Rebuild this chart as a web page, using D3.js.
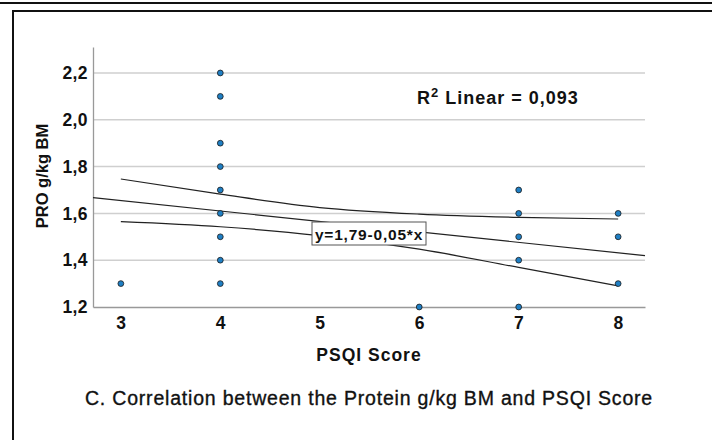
<!DOCTYPE html>
<html>
<head>
<meta charset="utf-8">
<script src="https://cdn.jsdelivr.net/npm/d3@7"></script>
<style>
  body { margin: 0; background: #fff; }
  svg text { font-family: "Liberation Sans", Arial, sans-serif; fill: #111; }
</style>
</head>
<body>
<div id="chart"></div>
<script>
// PSQI score vs protein intake, one entry per visible dot
var psqi = [3, 4, 4, 4, 4, 4, 4, 4, 4, 4, 6, 7, 7, 7, 7, 7, 8, 8, 8];
var protein = [1.3, 2.2, 2.1, 1.9, 1.8, 1.7, 1.6, 1.5, 1.4, 1.3, 1.2, 1.7, 1.6, 1.5, 1.4, 1.2, 1.6, 1.5, 1.3];

var xTicks = [3, 4, 5, 6, 7, 8];
var yTicks = [1.2, 1.4, 1.6, 1.8, 2.0, 2.2];

// fit line and 95% band
var fitIntercept = 1.789;
var fitSlope = -0.0447;
var bandX = [3, 4, 5, 6, 7, 8];
var bandUpper = [1.747, 1.682, 1.625, 1.597, 1.583, 1.576];
var bandLower = [1.565, 1.543, 1.505, 1.447, 1.369, 1.290];

var fmt = function (d) { return d3.format(".1f")(d).replace(".", ","); };

var svg = d3.select("#chart").append("svg")
  .attr("width", 712)
  .attr("height", 440);

// frame lines
svg.append("line")
  .attr("x1", 0).attr("x2", 712).attr("y1", 3).attr("y2", 3)
  .attr("stroke", "#111").attr("stroke-width", 2);
svg.append("rect")
  .attr("x", 13).attr("y", 11).attr("width", 800).attr("height", 500)
  .attr("fill", "none").attr("stroke", "#111").attr("stroke-width", 2);

var x = d3.scaleLinear().domain([2.72, 8.27]).range([93, 645]);
var y = d3.scaleLinear().domain([1.2, 2.311]).range([307, 47]);

// grid
svg.append("g")
  .selectAll("line")
  .data(yTicks.slice(1))
  .enter()
  .append("line")
  .attr("x1", x.range()[0]).attr("x2", x.range()[1])
  .attr("y1", function (d) { return y(d); })
  .attr("y2", function (d) { return y(d); })
  .attr("stroke", "#cfcfcf").attr("stroke-width", 1.5);

// axes
var xAxis = svg.append("g")
  .attr("transform", "translate(0," + y.range()[0] + ")")
  .call(d3.axisBottom(x).tickValues(xTicks).tickSize(0).tickPadding(10).tickFormat(d3.format("d")));
var yAxis = svg.append("g")
  .attr("transform", "translate(" + x.range()[0] + ",0)")
  .call(d3.axisLeft(y).tickValues(yTicks).tickSize(0).tickPadding(5).tickFormat(fmt));

[xAxis, yAxis].forEach(function (a) {
  a.select(".domain").attr("stroke", "#999").attr("stroke-width", 1.3);
  a.selectAll("text")
    .style("font-family", "'Liberation Sans', Arial, sans-serif")
    .style("font-size", "17.5px")
    .style("font-weight", "bold")
    .style("letter-spacing", "0.4px")
    .attr("fill", "#111");
});

// fit line across the plot
var line = d3.line()
  .x(function (d) { return x(d[0]); })
  .y(function (d) { return y(d[1]); });

svg.append("path")
  .datum(x.domain().map(function (v) { return [v, fitIntercept + fitSlope * v]; }))
  .attr("d", line)
  .attr("fill", "none").attr("stroke", "#222").attr("stroke-width", 1.2);

// band curves
var curve = d3.line()
  .x(function (d) { return x(d[0]); })
  .y(function (d) { return y(d[1]); })
  .curve(d3.curveMonotoneX);

[bandUpper, bandLower].forEach(function (band) {
  svg.append("path")
    .datum(bandX.map(function (v, i) { return [v, band[i]]; }))
    .attr("d", curve)
    .attr("fill", "none").attr("stroke", "#222").attr("stroke-width", 1.2);
});

// dots
svg.append("g")
  .selectAll("circle")
  .data(psqi)
  .enter()
  .append("circle")
  .attr("cx", function (d) { return x(d); })
  .attr("cy", function (d, i) { return y(protein[i]); })
  .attr("r", 2.9)
  .attr("fill", "#1f7fc4")
  .attr("stroke", "#1a1a1a")
  .attr("stroke-width", 0.8);

// equation label
var eq = svg.append("g").attr("transform", "translate(369,233.5)");
eq.append("rect")
  .attr("x", -57).attr("y", -11.5).attr("width", 114).attr("height", 23)
  .attr("fill", "#fff").attr("stroke", "#555").attr("stroke-width", 1);
eq.append("text")
  .attr("text-anchor", "middle")
  .attr("y", 6)
  .style("font-size", "15.5px")
  .style("font-weight", "bold")
  .style("letter-spacing", "0.8px")
  .text("y=1,79-0,05*x");

// R squared
var r2 = svg.append("text")
  .attr("x", 417).attr("y", 104)
  .style("font-size", "18px")
  .style("font-weight", "bold")
  .style("letter-spacing", "1px");
r2.append("tspan").text("R");
r2.append("tspan").attr("dy", -7).style("font-size", "13px").text("2");
r2.append("tspan").attr("dy", 7).text(" Linear = 0,093");

// axis titles
svg.append("text")
  .attr("x", 369).attr("y", 361)
  .attr("text-anchor", "middle")
  .style("font-size", "17.5px")
  .style("font-weight", "bold")
  .style("letter-spacing", "1px")
  .text("PSQI Score");

svg.append("text")
  .attr("transform", "translate(48,176) rotate(-90)")
  .attr("text-anchor", "middle")
  .style("font-size", "16.5px")
  .style("font-weight", "bold")
  .text("PRO g/kg BM");

// caption
svg.append("text")
  .attr("x", 369).attr("y", 405)
  .attr("text-anchor", "middle")
  .style("font-size", "19.5px")
  .style("letter-spacing", "0.8px")
  .style("stroke", "#111")
  .style("stroke-width", "0.35px")
  .text("C. Correlation between the Protein g/kg BM and PSQI Score");
</script>
</body>
</html>
